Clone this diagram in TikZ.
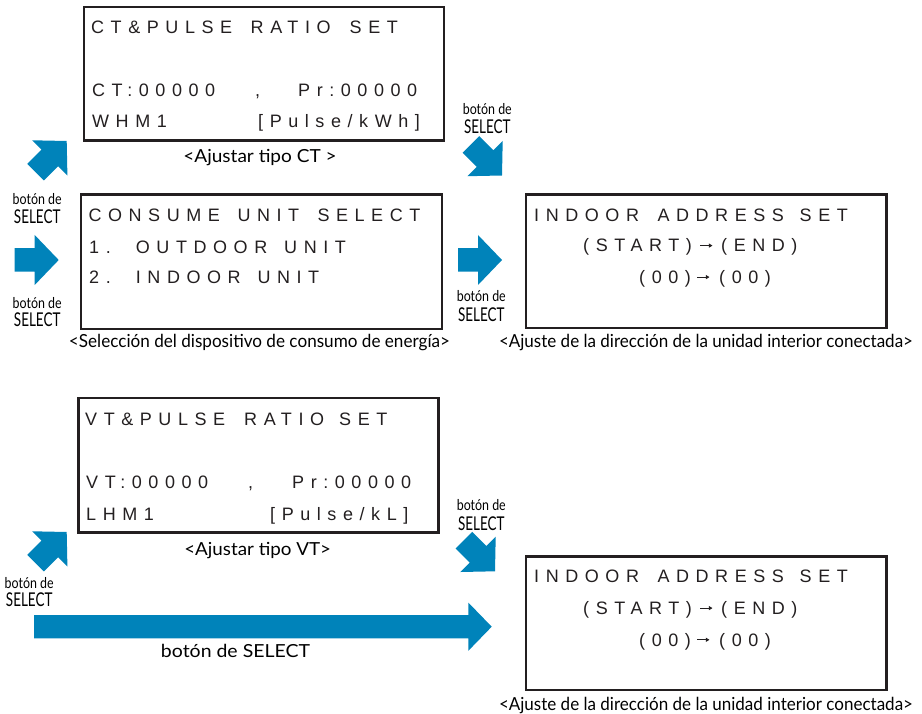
\documentclass[tikz,border=0pt]{standalone}
\usepackage{fontspec}
\usepackage{graphicx}
\usetikzlibrary{arrows.meta}
\setmainfont{Liberation Sans}
\newfontfamily\lcdfont[LetterSpace=36.5]{Liberation Sans}
\newfontfamily\capfont{Lato}
\definecolor{arrowblue}{RGB}{0,131,186}
\definecolor{ink}{RGB}{35,31,32}
\newcommand{\fitw}[2]{\resizebox{#1}{\height}{#2}}
\newcommand{\blockarrow}[6]{%
  \fill[arrowblue, shift={(#1)}, rotate=#2] (0,0) -- (-#6,-#5/2) -- (-#6,-#4/2) -- (-#3,-#4/2)
    -- (-#3,#4/2) -- (-#6,#4/2) -- (-#6,#5/2) -- cycle;}
\newcommand{\btnlabel}[4]{%
  \node[btnsmall] (#4a) at (#1,#2) {\fitw{49pt}{botón de}};
  \node[btnbig] (#4b) at (#1,#3) {\fitw{46.5pt}{SELECT}};}
\tikzset{
  screen/.style={draw=ink, line width=2.3pt, anchor=north west, inner sep=0pt},
  lcd/.style={inner sep=0pt, anchor=base west, text=ink,
    font=\lcdfont\fontsize{18}{18}\selectfont},
  lcdarrow/.style={draw=ink, line width=0.9pt, -{Triangle[length=3.6pt,width=4pt]}},
  caption/.style={inner sep=0pt, anchor=base, text=black,
    font=\capfont\fontsize{18}{18}\selectfont},
  btnsmall/.style={inner sep=0pt, anchor=base, text=black,
    font=\capfont\fontsize{15}{15}\selectfont},
  btnbig/.style={inner sep=0pt, anchor=base, text=black,
    font=\capfont\fontsize{19}{19}\selectfont},
}
\begin{document}
\begin{tikzpicture}[x=1pt,y=-1pt]
\useasboundingbox (0,0) rectangle (922,714);
% screens
\node[screen, minimum width=360pt, minimum height=133.3pt] (scr1) at (83,6.2) {};
\node[screen, minimum width=361pt, minimum height=134.3pt] (scr2) at (79.5,193.5) {};
\node[screen, minimum width=360.7pt, minimum height=133.7pt] (scr3) at (524.5,193.5) {};
\node[screen, minimum width=360pt, minimum height=134.4pt] (scr4) at (77.2,396.8) {};
\node[screen, minimum width=360.8pt, minimum height=133.6pt] (scr5) at (524.5,555.2) {};
% screen 1 text
\node[lcd] (t1a) at (91,34) {CT\&PULSE};
\node[lcd] (t1a2) at (250.5,34) {RATIO};
\node[lcd] (t1a3) at (349.5,34) {SET};
\node[lcd] (t1b) at (92,97) {CT:00000};
\node[lcd] (t1c) at (255,97) {,};
\node[lcd] (t1d) at (298,97) {Pr:00000};
\node[lcd] (t1e) at (92,128) {WHM1};
\node[lcd] (t1f) at (258,128) {[Pulse/kWh]};
% screen 2 text
\node[lcd] (t2a) at (88.3,222) {CONSUME};
\node[lcd] (t2a2) at (237.3,222) {UNIT};
\node[lcd] (t2a3) at (317.3,222) {SELECT};
\node[lcd] (t2b) at (89,253.3) {1.};
\node[lcd] (t2c) at (135.7,253.3) {OUTDOOR};
\node[lcd] (t2c2) at (284,253.3) {UNIT};
\node[lcd] (t2d) at (89,283.3) {2.};
\node[lcd] (t2e) at (135.7,283.3) {INDOOR};
\node[lcd] (t2e2) at (257.3,283.3) {UNIT};
% screen 3 text
\node[lcd] (t3a) at (534,221.7) {INDOOR};
\node[lcd] (t3a2) at (657.3,221.7) {ADDRESS};
\node[lcd] (t3a3) at (799.5,221.7) {SET};
\node[lcd] (t3b) at (583,251.8) {(START)};
\node[lcd] (t3d) at (721,251.8) {(END)};
\node[lcd] (t3e) at (639,283.3) {(00)};
\node[lcd] (t3g) at (719,283.3) {(00)};
\coordinate (t3c1) at (700,245.6);
\coordinate (t3c2) at (712.5,245.6);
\coordinate (t3f1) at (697,277.1);
\coordinate (t3f2) at (709.5,277.1);
\draw[lcdarrow] (t3c1) -- (t3c2);
\draw[lcdarrow] (t3f1) -- (t3f2);
% screen 4 text
\node[lcd] (t4a) at (85,425) {VT\&PULSE};
\node[lcd] (t4a2) at (244,425) {RATIO};
\node[lcd] (t4a3) at (339,425) {SET};
\node[lcd] (t4b) at (86,488.3) {VT:00000};
\node[lcd] (t4c) at (248,488.3) {,};
\node[lcd] (t4d) at (292,488.3) {Pr:00000};
\node[lcd] (t4e) at (86,520) {LHM1};
\node[lcd] (t4f) at (270,520) {[Pulse/kL]};
% screen 5 text
\node[lcd] (t5a) at (534,582.8) {INDOOR};
\node[lcd] (t5a2) at (657.3,582.8) {ADDRESS};
\node[lcd] (t5a3) at (799.5,582.8) {SET};
\node[lcd] (t5b) at (583,614.3) {(START)};
\node[lcd] (t5d) at (721,614.3) {(END)};
\node[lcd] (t5e) at (639,646) {(00)};
\node[lcd] (t5g) at (719,646) {(00)};
\coordinate (t5c1) at (700,608.1);
\coordinate (t5c2) at (712.5,608.1);
\coordinate (t5f1) at (697,639.8);
\coordinate (t5f2) at (709.5,639.8);
\draw[lcdarrow] (t5c1) -- (t5c2);
\draw[lcdarrow] (t5f1) -- (t5f2);
% captions
\node[caption] (c1) at (260,163) {\fitw{153.3pt}{<Ajustar tipo CT >}};
\node[caption] (c2) at (259.5,347.5) {\fitw{381pt}{<Selección del dispositivo de consumo de energía>}};
\node[caption] (c3) at (706,348) {\fitw{414pt}{<Ajuste de la dirección de la unidad interior conectada>}};
\node[caption] (c4) at (257.7,555) {\fitw{146.7pt}{<Ajustar tipo VT>}};
\node[caption] (c5) at (706,710) {\fitw{414pt}{<Ajuste de la dirección de la unidad interior conectada>}};
% blue arrows
\coordinate (a1) at (66.7,141);
\coordinate (a2) at (58.7,260);
\coordinate (a3) at (502,175.5);
\coordinate (a4) at (502,260);
\coordinate (a5) at (66.7,532);
\coordinate (a6) at (495,571.3);
\coordinate (a7) at (491.7,626.7);
\blockarrow{a1}{45}{44}{23.5}{50}{24}
\blockarrow{a2}{0}{44}{23.5}{50}{24}
\blockarrow{a3}{-45}{44}{23.5}{50}{24}
\blockarrow{a4}{0}{44}{23.5}{50}{24}
\blockarrow{a5}{45}{44}{23.5}{50}{24}
\blockarrow{a6}{-45}{44}{23.5}{50}{24}
\blockarrow{a7}{0}{457.7}{23.3}{48.3}{23.4}
% button labels
\btnlabel{37.2}{205}{223.3}{L1}
\btnlabel{37.2}{308.3}{326.7}{L2}
\btnlabel{487.3}{115}{134}{L3}
\btnlabel{481.3}{301.7}{321.7}{L4}
\btnlabel{29.2}{588.3}{606.7}{L5}
\btnlabel{481.3}{510.7}{530}{L6}
\node[caption] (L7) at (235.5,657.7) {\fitw{149pt}{botón de SELECT}};
\end{tikzpicture}
\end{document}
